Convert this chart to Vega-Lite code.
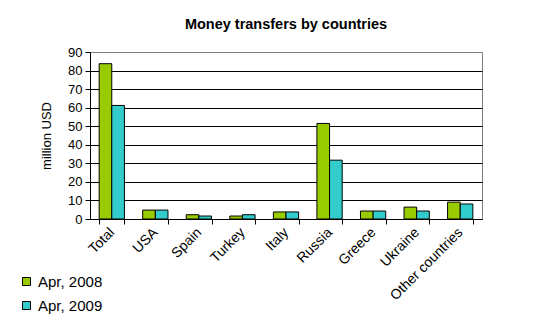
{
  "$schema": "https://vega.github.io/schema/vega-lite/v6.json",
  "autosize": "none",
  "width": 392,
  "height": 167,
  "padding": {"left": 90, "top": 52, "right": 57, "bottom": 116},
  "background": "white",
  "title": {
    "text": "Money transfers by countries",
    "font": "Liberation Sans",
    "fontSize": 14.5,
    "fontWeight": "bold",
    "color": "black",
    "anchor": "middle",
    "offset": 14
  },
  "data": {
    "values": [
      {"country": "Total", "period": "Apr, 2008", "value": 83.7},
      {"country": "Total", "period": "Apr, 2009", "value": 61.2},
      {"country": "USA", "period": "Apr, 2008", "value": 4.8},
      {"country": "USA", "period": "Apr, 2009", "value": 4.8},
      {"country": "Spain", "period": "Apr, 2008", "value": 2.3},
      {"country": "Spain", "period": "Apr, 2009", "value": 1.6},
      {"country": "Turkey", "period": "Apr, 2008", "value": 1.6},
      {"country": "Turkey", "period": "Apr, 2009", "value": 2.3},
      {"country": "Italy", "period": "Apr, 2008", "value": 3.8},
      {"country": "Italy", "period": "Apr, 2009", "value": 3.8},
      {"country": "Russia", "period": "Apr, 2008", "value": 51.5},
      {"country": "Russia", "period": "Apr, 2009", "value": 31.7},
      {"country": "Greece", "period": "Apr, 2008", "value": 4.3},
      {"country": "Greece", "period": "Apr, 2009", "value": 4.3},
      {"country": "Ukraine", "period": "Apr, 2008", "value": 6.4},
      {"country": "Ukraine", "period": "Apr, 2009", "value": 4.3},
      {"country": "Other countries", "period": "Apr, 2008", "value": 9.1},
      {"country": "Other countries", "period": "Apr, 2009", "value": 8.1}
    ]
  },
  "mark": {"type": "bar", "stroke": "black", "strokeWidth": 1},
  "encoding": {
    "x": {
      "field": "country",
      "type": "nominal",
      "sort": null,
      "scale": {"paddingInner": 0.42, "paddingOuter": 0.21},
      "axis": {
        "title": null,
        "labelAngle": -45,
        "labelAlign": "right",
        "labelBaseline": "middle",
        "labelFont": "Liberation Sans",
        "labelFontSize": 14,
        "labelColor": "black",
        "labelPadding": 6,
        "tickBand": "extent",
        "tickColor": "black",
        "tickSize": 5,
        "domainColor": "black",
        "grid": false
      }
    },
    "xOffset": {"field": "period", "type": "nominal", "scale": {"paddingInner": 0}},
    "y": {
      "field": "value",
      "type": "quantitative",
      "scale": {"domain": [0, 90], "nice": false},
      "axis": {
        "title": "million USD",
        "titleFont": "Liberation Sans",
        "titleFontSize": 13,
        "titleFontWeight": "normal",
        "titleColor": "black",
        "titlePadding": 14,
        "values": [0, 10, 20, 30, 40, 50, 60, 70, 80, 90],
        "labelFont": "Liberation Sans",
        "labelFontSize": 13,
        "labelColor": "black",
        "labelPadding": 3,
        "tickColor": "black",
        "tickSize": 5,
        "domainColor": "black",
        "grid": true,
        "gridColor": {"condition": {"test": "datum.value === 90", "value": "#808080"}, "value": "black"},
        "gridOpacity": 1,
        "gridWidth": 1
      }
    },
    "fill": {
      "field": "period",
      "type": "nominal",
      "scale": {"domain": ["Apr, 2008", "Apr, 2009"], "range": ["#99CC00", "#33CCCC"]},
      "legend": {
        "title": null,
        "orient": "none",
        "legendX": -71,
        "legendY": 222,
        "symbolType": "square",
        "symbolSize": 64,
        "symbolStrokeColor": "black",
        "symbolStrokeWidth": 1,
        "symbolOpacity": 1,
        "labelFont": "Liberation Sans",
        "labelFontSize": 15,
        "labelColor": "black",
        "rowPadding": 8,
        "labelOffset": 4
      }
    }
  },
  "config": {
    "view": {"stroke": "#808080", "strokeWidth": 1}
  }
}
